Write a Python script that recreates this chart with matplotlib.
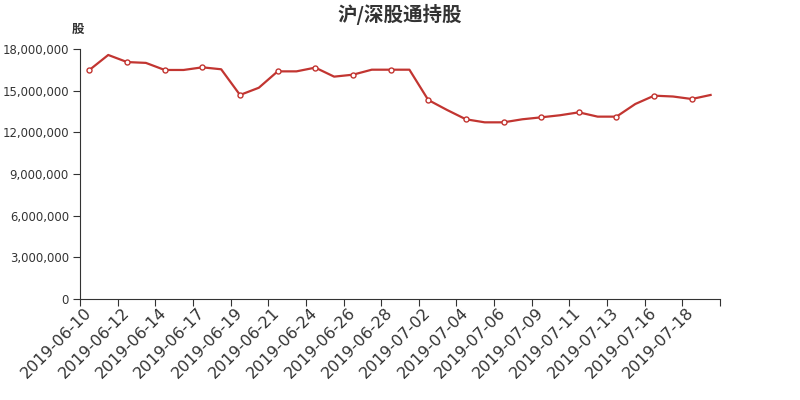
import matplotlib
matplotlib.use('Agg')
import matplotlib.pyplot as plt
from matplotlib.ticker import FuncFormatter, FixedLocator

plt.rcParams['font.family'] = ['Noto Sans CJK SC', 'DejaVu Sans']

# trading dates and holdings (shares)
dates = ['2019-06-10', '2019-06-11', '2019-06-12', '2019-06-13', '2019-06-14', '2019-06-15',
         '2019-06-17', '2019-06-18', '2019-06-19', '2019-06-20', '2019-06-21', '2019-06-22',
         '2019-06-24', '2019-06-25', '2019-06-26', '2019-06-27', '2019-06-28', '2019-06-29',
         '2019-07-02', '2019-07-03', '2019-07-04', '2019-07-05', '2019-07-06', '2019-07-08',
         '2019-07-09', '2019-07-10', '2019-07-11', '2019-07-12', '2019-07-13', '2019-07-15',
         '2019-07-16', '2019-07-17', '2019-07-18', '2019-07-19']
shares = [16490000, 17570000, 17060000, 17000000, 16490000, 16490000,
          16680000, 16540000, 14690000, 15210000, 16390000, 16390000,
          16660000, 16010000, 16150000, 16510000, 16510000, 16510000,
          14330000, 13610000, 12940000, 12720000, 12720000, 12940000,
          13080000, 13230000, 13440000, 13130000, 13130000, 14040000,
          14640000, 14580000, 14400000, 14690000]
y_ticks = [0, 3000000, 6000000, 9000000, 12000000, 15000000, 18000000]

red = '#c23531'
dark = '#333333'

fig = plt.figure(figsize=(8, 4), dpi=100)
ax = fig.add_axes([0.1, 0.2525, 0.8, 0.625])

x = list(range(len(dates)))
ax.plot(x, shares, color=red, lw=1.6, zorder=3)
ax.plot(x[::2], shares[::2], ls='none', marker='o', ms=3.6, mfc='white', mec=red, mew=1, zorder=4)

ax.set_xlim(-0.5, len(dates) - 0.5)
ax.set_ylim(0, 18000000)
ax.set_yticks(y_ticks)
ax.yaxis.set_major_formatter(FuncFormatter(lambda v, p: f'{int(v):,}'))

# ticks at category boundaries, labels at category centers
ax.xaxis.set_major_locator(FixedLocator([i - 0.5 for i in range(0, len(dates) + 1, 2)]))
ax.xaxis.set_major_formatter(FuncFormatter(lambda v, p: ''))
ax.xaxis.set_minor_locator(FixedLocator(x[::2]))
ax.set_xticklabels(dates[::2], minor=True, rotation=45, ha='right', va='center',
                   rotation_mode='anchor', fontsize=11.5, color=dark, family='DejaVu Sans')
ax.tick_params(axis='x', which='minor', length=0, pad=8)
ax.tick_params(axis='x', which='major', length=5, color=dark)
ax.tick_params(axis='y', length=5, pad=3, color=dark, labelcolor=dark, labelsize=8.4)
for lab in ax.get_yticklabels():
    lab.set_family('DejaVu Sans')

for s in ['top', 'right']:
    ax.spines[s].set_visible(False)
for s in ['left', 'bottom']:
    ax.spines[s].set_color(dark)

fig.text(0.5, 0.965, '沪/深股通持股', ha='center', va='center', fontsize=14,
         fontweight='bold', color=dark)
fig.text(0.098, 0.927, '股', ha='center', va='center', fontsize=9, fontweight='bold', color=dark)

fig.savefig('out.png', dpi=100)
